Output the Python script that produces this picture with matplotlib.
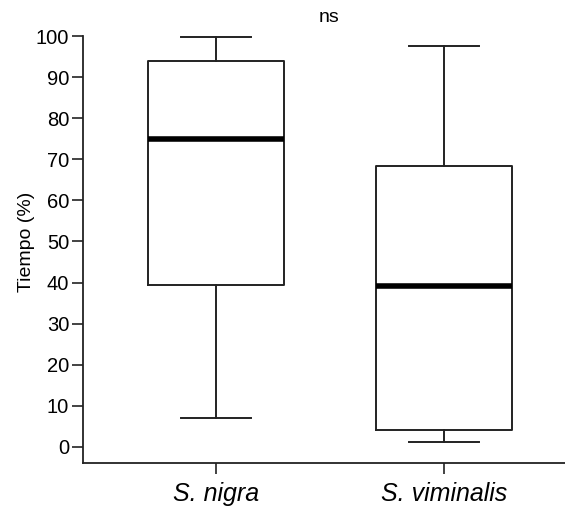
"""
Boxplot of time (%) for two Salix species
"""

import matplotlib
matplotlib.use('Agg')
import matplotlib.pyplot as plt

plt.rcParams['font.family'] = ['Liberation Sans', 'DejaVu Sans']

# Data
species = ['S. nigra', 'S. viminalis']
whisker_low = [7.1, 1.3]
q1 = [39.5, 4.1]
median = [75.0, 39.2]
q3 = [94.0, 68.3]
whisker_high = [99.7, 97.6]
yticks = list(range(0, 101, 10))

stats = []
for i, name in enumerate(species):
    stats.append({
        'label': name,
        'whislo': whisker_low[i],
        'q1': q1[i],
        'med': median[i],
        'q3': q3[i],
        'whishi': whisker_high[i],
    })

fig = plt.figure(figsize=(5.65, 5.09), dpi=100)
ax = fig.add_axes([83 / 565, 46 / 509, 482 / 565, 427 / 509])

lw = 1.4
ax.bxp(stats, positions=[1, 2], widths=0.6, showfliers=False,
       boxprops=dict(color='#222222', linewidth=lw),
       whiskerprops=dict(color='#222222', linewidth=lw),
       capprops=dict(color='#222222', linewidth=lw),
       capwidths=0.31,
       medianprops=dict(color='black', linewidth=4, solid_capstyle='butt'))

for artist in ax.lines:
    artist.set_clip_on(False)

ax.set_xlim(0.417, 2.531)
ax.set_ylim(-3.9, 100)
ax.set_yticks(yticks)
ax.set_xticks([1, 2])
ax.set_xticklabels(species, fontsize=18, style='italic')
ax.tick_params(axis='y', labelsize=14.5, length=8, width=1.2, pad=2, color='#222222')
ax.tick_params(axis='x', length=8, width=1.2, pad=6, color='#222222')

ax.spines['top'].set_visible(False)
ax.spines['right'].set_visible(False)
for s in ['left', 'bottom']:
    ax.spines[s].set_linewidth(1.3)
    ax.spines[s].set_color('#222222')

ax.set_ylabel('Tiempo (%)', fontsize=14)
ax.yaxis.set_label_coords(-0.1, 0.518)

fig.text(329 / 565, 1 - 17 / 509, 'ns', fontsize=14, ha='center', va='center')

fig.savefig('out.png', dpi=100)
plt.close(fig)
